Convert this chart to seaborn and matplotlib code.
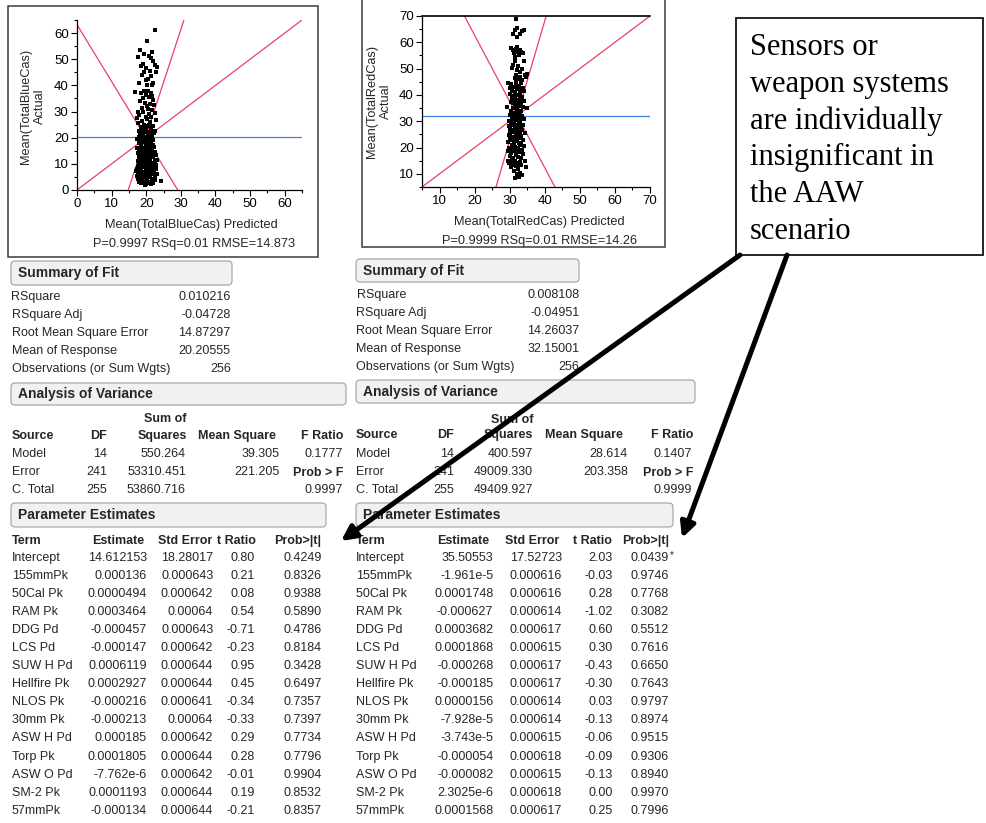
import numpy as np
import pandas as pd
import matplotlib
matplotlib.use("Agg")
import matplotlib.pyplot as plt
import matplotlib.transforms as mtransforms
from matplotlib.patches import Rectangle, FancyBboxPatch, FancyArrowPatch
from matplotlib.ticker import MultipleLocator
import seaborn as sns

# ---------------- data ----------------
blue_pts = [
    (22.5, 61), (20.3, 56.8), (18.2, 53.4), (21.8, 52.8), (19.5, 52), (17.5, 51), (20.8, 51.3),
    (21.5, 50.5), (22, 49.5), (19, 48), (18.5, 47.5), (22.5, 47.8), (23, 47), (20, 46.5),
    (21, 45.5), (19.5, 45), (22.8, 45), (18.7, 44), (21.3, 43.5), (20.5, 42.5), (19.8, 42),
    (18, 41), (22, 41), (20.3, 40.3), (21.6, 40),
    (16.7, 37.5), (19.5, 38), (20.5, 37.8), (21.5, 37), (18.5, 37.2), (20, 36.5), (21.8, 36),
    (19, 35), (20.8, 35.5), (22, 34.5), (18.3, 34), (19.7, 33.3), (21.2, 33), (20.3, 32),
    (22.3, 32.5), (18.8, 31.5), (20.6, 30.8), (21.7, 30.5), (17.5, 30), (19.2, 29.8), (20.9, 29),
    (22.5, 29.5), (18, 28.5), (19.8, 28), (21.3, 27.8), (17.4, 27.5), (20.2, 27), (22.8, 26.8),
    (18.9, 26.5), (21, 26), (17.6, 25.5), (19.5, 25), (20.7, 24.8), (22, 24.5),
    (18.5, 24), (20, 23.5), (21.5, 23), (19.2, 22.8), (17.8, 22.5), (20.8, 22), (22.2, 21.8),
    (19, 21.5), (18.2, 21), (20.4, 20.8), (21.7, 20.5), (19.6, 20.2), (18.7, 19.8), (21.2, 19.5),
    (20, 19.2), (22, 19), (18.3, 18.7), (19.4, 18.5), (20.9, 18.2), (17.9, 17.8), (21.5, 17.6),
    (19.9, 17.3), (18.6, 17), (20.5, 16.8), (22.3, 16.5), (19.2, 16.2), (21, 16), (18, 15.7),
    (20.2, 15.5), (21.8, 15.2), (18.9, 15), (19.7, 14.7), (22.6, 14.5), (17.6, 14.2), (20.7, 14),
    (19.3, 13.7), (21.4, 13.5), (18.4, 13.2), (20.1, 13), (22, 12.7), (17.9, 12.5), (19.6, 12.2),
    (21.1, 12), (18.7, 11.7), (20.5, 11.5), (22.4, 11.2), (17.5, 11), (19.1, 10.8), (21.6, 10.5),
    (18.2, 10.2), (20.3, 10), (19.5, 9.7), (22.9, 9.5), (17.7, 9.2), (20.9, 9), (18.8, 8.7),
    (21.4, 8.5), (19.9, 8.2), (17.3, 8), (20.6, 7.8), (22.2, 7.5), (18.5, 7.3), (19.3, 7),
    (21.8, 6.8), (17.8, 6.5), (20.1, 6.3), (23, 6.2), (18.9, 6), (21.2, 5.8), (19.7, 5.5),
    (17.2, 5.3), (20.8, 5.1), (22.5, 5), (18.3, 4.8), (19.5, 4.5), (21.6, 4.3), (20.3, 4),
    (18, 3.8), (22.1, 3.7), (24.3, 3.5), (19, 3.3), (20.7, 3), (21.9, 2.7), (18.6, 2.5),
    (20, 2.3), (19.6, 2), (21.3, 2.2), (17.6, 4.2), (22.8, 8.2), (17.1, 7.2), (23.2, 11.5),
    (17.4, 16), (22.9, 13.5), (17.2, 19.5), (22.5, 22.5), (21.3, 24.2), (20.5, 21.2), (19.8, 14.3),
    (20.6, 6.8), (19.4, 9.5), (21.0, 4.8), (18.5, 5.8), (20.2, 3.3),
    (18.1, 12.9), (19.0, 12.4), (20.8, 12.6), (21.9, 13.9), (18.5, 14.6), (21.3, 15.4), (19.4, 15.9),
    (20.4, 17.9), (18.8, 18.2), (21.9, 17.2), (19.1, 19.3), (20.7, 19.9), (18.0, 20.3), (21.0, 21.6),
    (19.8, 22.1), (18.9, 23.4), (20.3, 24.3), (19.0, 9.1), (20.0, 8.8), (21.7, 9.3), (18.4, 8.3),
    (22.3, 10.1), (19.8, 10.9), (20.9, 10.6), (17.9, 10.6), (18.9, 4.3), (21.6, 3.2), (19.3, 5.1),
    (20.5, 5.6), (22.0, 6.2), (17.6, 6.0), (19.9, 6.9), (21.1, 7.2), (18.2, 7.7), (20.0, 4.9),
    (19.2, 2.8), (21.1, 2.6), (22.6, 3.9), (17.9, 2.9), (20.4, 2.6),
]
red_pts = [
    (31.9, 69), (32.2, 65.5), (31.5, 64.5), (33.5, 64.3), (34.2, 64.5), (31, 63), (32.8, 63), (32, 62),
    (30.5, 58), (31.8, 57.5), (33, 57), (32.4, 56.5), (31.2, 56), (33.7, 55.8), (32.6, 55), (31.6, 54.5),
    (34, 53), (31, 51.5), (32.3, 51), (30.6, 50.3), (33.4, 50), (32, 49.5), (34.8, 48), (34.3, 47.5),
    (33, 47), (31.4, 46.5), (34.6, 46.8), (32.5, 46), (29.5, 44.5), (31.8, 45.2), (33.2, 44.5),
    (30.4, 44), (32.7, 43.5), (31.1, 43), (33.8, 42.8), (32, 42.2), (30.8, 41.5), (34.2, 41.5),
    (31.6, 41), (33, 40.5), (30.2, 40.3), (32.4, 40), (31.3, 39.5), (33.6, 39.2), (30.7, 38.8),
    (32.8, 38.5), (31.9, 38), (34, 37.8), (30.4, 37.5), (33.3, 37), (31.5, 36.7), (32.6, 36.2),
    (29.3, 35.5), (34.8, 35.2), (31, 35), (33.9, 35.3), (32.2, 34.5), (30.5, 34), (33.1, 33.8),
    (31.7, 33.3), (32.9, 32.8), (30.1, 32.5), (31.4, 32.2), (33.5, 32), (32.5, 31.5), (30.8, 31),
    (34.1, 31), (31.9, 30.5), (29.8, 30), (33, 30), (31.2, 29.5), (32.6, 29), (30.4, 28.7),
    (33.8, 28.5), (31.6, 28), (32.9, 27.5), (30.2, 27.2), (31.3, 26.8), (33.4, 26.5), (30.7, 26),
    (32.3, 25.8), (34.5, 25.5), (31.8, 25.2), (29.7, 24.8), (33.1, 24.5), (30.9, 24), (32.6, 23.7),
    (31.4, 23.2), (33.7, 23), (30.3, 22.7), (32, 22.3), (29.5, 22), (31.1, 21.8), (33.2, 21.5),
    (30.6, 21), (32.8, 20.8), (31.6, 20.3), (34.1, 20.5), (29.9, 20), (32.3, 19.7), (30.9, 19.3),
    (33.5, 19), (31.3, 18.7), (29.4, 18.5), (32.7, 18.2), (30.4, 17.8), (33.9, 17.5), (31.8, 17.3),
    (30.1, 16.8), (32.4, 16.5), (33.1, 16), (30.7, 15.7), (29.6, 15), (31.5, 14.8), (34.3, 14.8),
    (32.2, 14.2), (29.8, 14), (30.9, 13.5), (33.3, 13.2), (31.7, 12.8), (30.3, 12.5), (32.5, 12),
    (34.6, 12.5), (31.2, 11), (33, 10.5), (32, 9.8), (32.6, 8.8), (31.6, 8.6), (33.4, 9.5),
    (30.8, 23.3), (31.9, 35.8), (32.1, 27), (30.5, 29.5), (31.5, 38.5), (32.9, 41.8), (31.1, 19.8),
    (33.2, 35.8),
    (30.9, 57.0), (32.1, 58.2), (33.3, 56.2), (31.4, 52.8), (32.8, 48.8), (31.7, 47.6), (33.5, 45.5),
    (30.1, 42.6), (31.9, 43.9), (32.9, 39.6), (30.9, 37.0), (32.1, 36.9), (30.8, 33.2), (32.4, 33.0),
    (31.2, 31.6), (33.2, 31.2), (29.9, 28.0), (31.9, 28.6), (33.3, 27.6), (30.1, 25.5), (31.5, 25.9),
    (33.0, 25.0), (31.9, 23.6), (30.1, 23.6), (32.6, 21.7), (30.2, 19.2), (31.9, 18.5), (33.0, 18.9),
    (30.6, 14.6), (32.9, 14.5), (31.0, 16.2), (32.0, 13.4),
]
blue_pred = [p[0] for p in blue_pts]
blue_actual = [p[1] for p in blue_pts]
red_pred = [p[0] for p in red_pts]
red_actual = [p[1] for p in red_pts]

# fit / confidence lines (endpoints)
blue_diag_x, blue_diag_y = [0, 65], [0, 65]
blue_down_x, blue_down_y = [0, 29.1], [63.2, 0]
blue_up_x, blue_up_y = [14.8, 30.9], [0, 65]
blue_mean = 20.20555
red_diag_x, red_diag_y = [5, 70], [5, 70]
red_down_x, red_down_y = [17.1, 42.9], [70, 5]
red_up_x, red_up_y = [26.1, 40.4], [5, 70]
red_mean = 32.15001

blue_stats = "P=0.9997 RSq=0.01 RMSE=14.873"
red_stats = "P=0.9999 RSq=0.01 RMSE=14.26"

fit_labels = ["RSquare", "RSquare Adj", "Root Mean Square Error", "Mean of Response",
              "Observations (or Sum Wgts)"]
blue_fit_vals = ["0.010216", "-0.04728", "14.87297", "20.20555", "256"]
red_fit_vals = ["0.008108", "-0.04951", "14.26037", "32.15001", "256"]

anova_sources = ["Model", "Error", "C. Total"]
anova_df = ["14", "241", "255"]
blue_ss = ["550.264", "53310.451", "53860.716"]
blue_ms = ["39.305", "221.205", ""]
blue_f = ["0.1777", "Prob > F", "0.9997"]
red_ss = ["400.597", "49009.330", "49409.927"]
red_ms = ["28.614", "203.358", ""]
red_f = ["0.1407", "Prob > F", "0.9999"]

terms = ["Intercept", "155mmPk", "50Cal Pk", "RAM Pk", "DDG Pd", "LCS Pd", "SUW H Pd",
         "Hellfire Pk", "NLOS Pk", "30mm Pk", "ASW H Pd", "Torp Pk", "ASW O Pd", "SM-2 Pk", "57mmPk"]
blue_est = ["14.612153", "0.000136", "0.0000494", "0.0003464", "-0.000457", "-0.000147", "0.0006119",
            "0.0002927", "-0.000216", "-0.000213", "0.000185", "0.0001805", "-7.762e-6", "0.0001193",
            "-0.000134"]
blue_se = ["18.28017", "0.000643", "0.000642", "0.00064", "0.000643", "0.000642", "0.000644",
           "0.000644", "0.000641", "0.00064", "0.000642", "0.000644", "0.000642", "0.000644", "0.000644"]
blue_t = ["0.80", "0.21", "0.08", "0.54", "-0.71", "-0.23", "0.95", "0.45", "-0.34", "-0.33", "0.29",
          "0.28", "-0.01", "0.19", "-0.21"]
blue_p = ["0.4249", "0.8326", "0.9388", "0.5890", "0.4786", "0.8184", "0.3428", "0.6497", "0.7357",
          "0.7397", "0.7734", "0.7796", "0.9904", "0.8532", "0.8357"]
red_est = ["35.50553", "-1.961e-5", "0.0001748", "-0.000627", "0.0003682", "0.0001868", "-0.000268",
           "-0.000185", "0.0000156", "-7.928e-5", "-3.743e-5", "-0.000054", "-0.000082", "2.3025e-6",
           "0.0001568"]
red_se = ["17.52723", "0.000616", "0.000616", "0.000614", "0.000617", "0.000615", "0.000617",
          "0.000617", "0.000614", "0.000614", "0.000615", "0.000618", "0.000615", "0.000618", "0.000617"]
red_t = ["2.03", "-0.03", "0.28", "-1.02", "0.60", "0.30", "-0.43", "-0.30", "0.03", "-0.13", "-0.06",
         "-0.09", "-0.13", "0.00", "0.25"]
red_p = ["0.0439", "0.9746", "0.7768", "0.3082", "0.5512", "0.7616", "0.6650", "0.7643", "0.9797",
         "0.8974", "0.9515", "0.9306", "0.8940", "0.9970", "0.7996"]
red_p_flag = ["*"] + [""] * 14

note_lines = ["Sensors or", "weapon systems", "are individually", "insignificant in", "the AAW", "scenario"]

# ---------------- style ----------------
sns.set_theme(style="ticks")
plt.rcParams["font.family"] = ["Liberation Sans", "DejaVu Sans"]
W, H = 987, 823
fig = plt.figure(figsize=(W / 100, H / 100), dpi=100)
fig.patch.set_facecolor("white")
pix = mtransforms.Affine2D().scale(1 / W, -1 / H).translate(0, 1) + fig.transFigure

RED = "#ec3f62"
BLUE = "#3b82e6"
FS = 9


def txt(x, y, s, ha="left", va="center", size=FS, weight="normal", **kw):
    fig.text(x, y, s, ha=ha, va=va, fontsize=size, fontweight=weight, transform=pix, **kw)


def add_axes(l, t, r, b):
    return fig.add_axes([l / W, 1 - b / H, (r - l) / W, (b - t) / H])


def style_ax(ax, lo, hi, ticks, top_spine):
    ax.set_xlim(lo, hi)
    ax.set_ylim(lo, hi)
    ax.set_xticks(ticks)
    ax.set_yticks(ticks)
    ax.xaxis.set_minor_locator(MultipleLocator(5))
    ax.yaxis.set_minor_locator(MultipleLocator(5))
    ax.tick_params(which="major", direction="out", length=4, width=0.8, labelsize=9.5,
                   pad=2, color="black", labelcolor="black")
    ax.tick_params(which="minor", direction="out", length=2.5, width=0.8, color="black")
    for side in ["left", "bottom"]:
        ax.spines[side].set_color("black")
        ax.spines[side].set_linewidth(0.9)
    ax.spines["right"].set_visible(False)
    ax.spines["top"].set_visible(top_spine)
    if top_spine:
        ax.spines["top"].set_color("black")
        ax.spines["top"].set_linewidth(1.2)
    ax.set_xlabel("")
    ax.set_ylabel("")
    ax.set_facecolor("white")


def draw_lines(ax, pairs, mean):
    for xs, ys in pairs:
        sns.lineplot(x=xs, y=ys, ax=ax, color=RED, linewidth=0.9, sort=False, estimator=None)
    ax.axhline(mean, color=BLUE, linewidth=0.9)


# ---------------- panel boxes ----------------
fig.add_artist(Rectangle((8, 6), 310, 251, transform=pix, fill=False, edgecolor="#3a3a3a", linewidth=1.1))
fig.add_artist(Rectangle((362, -5), 303, 252, transform=pix, fill=False, edgecolor="#3a3a3a", linewidth=1.1))

# ---------------- plot 1 ----------------
ax1 = add_axes(77, 20, 302, 190)
draw_lines(ax1, [(blue_diag_x, blue_diag_y), (blue_down_x, blue_down_y), (blue_up_x, blue_up_y)], blue_mean)
sns.scatterplot(x=blue_pred, y=blue_actual, ax=ax1, marker="s", s=10, color="black", linewidth=0, zorder=3)
style_ax(ax1, 0, 65, list(range(0, 61, 10)), False)
txt(33, 106, "Mean(TotalBlueCas)\nActual", ha="center", rotation=90, linespacing=1.3, size=9.2)
txt(191.5, 225, "Mean(TotalBlueCas) Predicted", ha="center", size=9.2)
txt(194, 244, blue_stats, ha="center", size=9.2)

# ---------------- plot 2 ----------------
ax2 = add_axes(422, 16, 650, 187)
draw_lines(ax2, [(red_diag_x, red_diag_y), (red_down_x, red_down_y), (red_up_x, red_up_y)], red_mean)
sns.scatterplot(x=red_pred, y=red_actual, ax=ax2, marker="s", s=10, color="black", linewidth=0, zorder=3)
style_ax(ax2, 5, 70, list(range(10, 71, 10)), True)
txt(379, 101, "Mean(TotalRedCas)\nActual", ha="center", rotation=90, linespacing=1.3, size=9.2)
txt(539, 222, "Mean(TotalRedCas) Predicted", ha="center", size=9.2)
txt(540, 241, red_stats, ha="center", size=9.2)


# ---------------- tables ----------------
def header_box(x0, y0, x1, y1, label):
    fig.add_artist(FancyBboxPatch((x0, y0), x1 - x0, y1 - y0, boxstyle="round,pad=0,rounding_size=4",
                                  transform=pix, facecolor="#f1f1f1", edgecolor="#a9a9a9", linewidth=0.9))
    txt(x0 + 7, (y0 + y1) / 2 + 0.5, label, size=10, weight="bold")


def tables(side):
    if side == "blue":
        fitv, ss, ms, fv = blue_fit_vals, blue_ss, blue_ms, blue_f
        est, se, tr, pv, flags = blue_est, blue_se, blue_t, blue_p, [""] * 15
        sf = dict(box=(11, 261, 232, 285), y0=297, val=230.7)
        an = dict(box=(11, 383, 346, 405), sumof=419, head=436.5, rows=454,
                  src=12, df=107.3, ss=186.7, ms=276, f=343.3, dfv=107.3, ssv=186, msv=280, fvv=342.7)
        pe = dict(box=(11, 503, 326, 527), head=541, term=12,
                  eh=144, seh=212.3, th=255.7, ph=321.7, ev=146.7, sev=213.3, tv=255, pvv=321.7)
    else:
        fitv, ss, ms, fv = red_fit_vals, red_ss, red_ms, red_f
        est, se, tr, pv, flags = red_est, red_se, red_t, red_p, red_p_flag
        sf = dict(box=(356, 259, 579, 282), y0=295, val=579.3)
        an = dict(box=(356, 380, 695, 403), sumof=420, head=435, rows=454,
                  src=356, df=454, ss=533.3, ms=622.7, f=693.3, dfv=454, ssv=532.7, msv=627.7, fvv=691.7)
        pe = dict(box=(356, 503, 673, 527), head=541, term=356,
                  eh=489, seh=559, th=611.7, ph=669, ev=493.3, sev=561.7, tv=612.7, pvv=669)

    header_box(*sf["box"], "Summary of Fit")
    for i, (lab, v) in enumerate(zip(fit_labels, fitv)):
        y = sf["y0"] + 18 * i
        txt(sf["box"][0] + 0.5, y, lab)
        txt(sf["val"], y, v, ha="right")

    header_box(*an["box"], "Analysis of Variance")
    txt(an["ss"], an["sumof"], "Sum of", ha="right", weight="bold")
    y = an["head"]
    txt(an["src"], y, "Source", weight="bold")
    txt(an["df"], y, "DF", ha="right", weight="bold")
    txt(an["ss"], y, "Squares", ha="right", weight="bold")
    txt(an["ms"], y, "Mean Square", ha="right", weight="bold")
    txt(an["f"], y, "F Ratio", ha="right", weight="bold")
    for i in range(3):
        y = an["rows"] + 18 * i
        txt(an["src"], y, anova_sources[i])
        txt(an["dfv"], y, anova_df[i], ha="right")
        txt(an["ssv"], y, ss[i], ha="right")
        txt(an["msv"], y, ms[i], ha="right")
        if fv[i] == "Prob > F":
            txt(an["f"], y + 1, fv[i], ha="right", weight="bold")
        else:
            txt(an["fvv"], y, fv[i], ha="right")

    header_box(*pe["box"], "Parameter Estimates")
    y = pe["head"]
    txt(pe["term"], y, "Term", weight="bold")
    txt(pe["eh"], y, "Estimate", ha="right", weight="bold")
    txt(pe["seh"], y, "Std Error", ha="right", weight="bold")
    txt(pe["th"], y, "t Ratio", ha="right", weight="bold")
    txt(pe["ph"], y, "Prob>|t|", ha="right", weight="bold")
    for i in range(len(terms)):
        y = 558 + 18.05 * i
        txt(pe["term"], y, terms[i])
        txt(pe["ev"], y, est[i], ha="right")
        txt(pe["sev"], y, se[i], ha="right")
        txt(pe["tv"], y, tr[i], ha="right")
        txt(pe["pvv"], y, pv[i], ha="right")
        if flags[i]:
            txt(pe["pvv"] + 0.5, y - 3, flags[i], size=7)


tables("blue")
tables("red")

# ---------------- annotation ----------------
fig.add_artist(Rectangle((736, 18), 247, 237, transform=pix, fill=False, edgecolor="black", linewidth=1.2))
for i, line in enumerate(note_lines):
    fig.text(750, 55 + 36.8 * i, line, transform=pix, ha="left", va="baseline", fontsize=22,
             family=["Liberation Serif", "DejaVu Serif"], color="black")

for (x0, y0), (x1, y1) in [((740, 255), (341, 541)), ((787, 255), (682, 538))]:
    fig.add_artist(FancyArrowPatch((x0, y0), (x1, y1), transform=pix, arrowstyle="-|>",
                                   mutation_scale=22, linewidth=3.6, color="black",
                                   shrinkA=0, shrinkB=0, zorder=10))

fig.savefig("out.png", dpi=100)
